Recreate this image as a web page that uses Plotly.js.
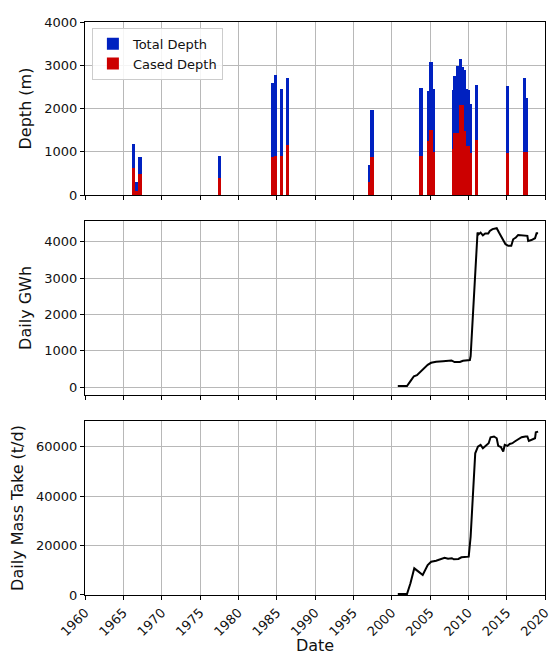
<!DOCTYPE html>
<html>
<head>
<meta charset="utf-8">
<script src="https://cdn.plot.ly/plotly-3.0.1.min.js"></script>
<style>html,body{margin:0;padding:0;background:#fff;}#chart{width:555px;height:655px;}</style>
</head>
<body>
<div id="chart"></div>
<script>
// ---- Well depth data (decimal year, total depth m, cased depth m) ----
const wellYears = [1966.3, 1966.75, 1967.2, 1977.54, 1984.51, 1984.85, 1985.6, 1986.4,
  1997.15, 1997.45, 2003.83, 2004.85, 2005.4, 2005.15,
  2008.055, 2008.265, 2008.575, 2008.825, 2009.005, 2009.185, 2009.445, 2009.705, 2009.965, 2010.225,
  2011.1, 2015.09, 2017.53, 2017.33];
const totalDepth = [1190, 310, 890, 905, 2590, 2785, 2454, 2715,
  705, 1970, 2477, 2400, 2450, 3070,
  2430, 2760, 2990, 2990, 3150, 2950, 2900, 2450, 2420, 2100,
  2540, 2510, 2235, 2715];
const casedDepth = [630, 105, 488, 400, 885, 895, 910, 1148,
  295, 885, 905, 1250, 1000, 1505,
  1070, 1440, 1440, 1420, 2090, 2090, 1470, 1050, 1140, 980,
  1277, 975, 995, 995];

// ---- Daily GWh series ----
const gwhYears = [2000.8, 2002.0, 2002.45, 2002.9, 2003.3, 2003.75, 2004.2, 2004.7, 2005.15, 2005.8,
  2006.7, 2007.8, 2008.2, 2008.9, 2009.3, 2010.2, 2010.3, 2010.6, 2010.9, 2011.2,
  2011.35, 2011.6, 2011.9, 2012.2, 2012.6, 2012.8, 2013.15, 2013.7, 2014.0, 2014.4,
  2014.85, 2015.2, 2015.6, 2015.85, 2016.2, 2016.5, 2016.9, 2017.4, 2017.7, 2017.8,
  2018.25, 2018.7, 2018.9, 2019.1];
const gwhValues = [30, 30, 165, 300, 330, 415, 505, 615, 670, 700,
  715, 735, 690, 690, 725, 745, 855, 1960, 3245, 4255,
  4210, 4255, 4180, 4230, 4230, 4300, 4350, 4375, 4255, 4090,
  3935, 3890, 3890, 4070, 4120, 4190, 4180, 4180, 4165, 4025,
  4050, 4100, 4235, 4235];

// ---- Daily mass take series (t/d) ----
const massYears = [2000.8, 2002.0, 2002.45, 2002.95, 2003.5, 2004.05, 2004.7, 2005.15, 2005.8, 2006.45,
  2006.9, 2007.35, 2007.85, 2008.1, 2008.7, 2009.1, 2009.75, 2010.05, 2010.3, 2010.6,
  2010.9, 2011.25, 2011.6, 2011.9, 2012.3, 2012.65, 2012.9, 2013.35, 2013.7, 2013.9,
  2014.25, 2014.55, 2014.75, 2015.1, 2015.4, 2015.75, 2016.05, 2016.5, 2016.95, 2017.45,
  2017.7, 2017.9, 2018.25, 2018.7, 2018.8, 2019.1];
const massValues = [400, 400, 4730, 10800, 9460, 8100, 12160, 13500, 13900, 14600,
  15100, 14700, 14900, 14460, 14600, 15270, 15540, 15540, 23650, 41200,
  57400, 60100, 60800, 59460, 60400, 61500, 63900, 64200, 63500, 60400,
  59900, 58100, 60800, 60400, 61200, 61500, 62200, 63100, 63900, 64200,
  64200, 62400, 62800, 63500, 65900, 66200];

const xTickVals = [1960, 1965, 1970, 1975, 1980, 1985, 1990, 1995, 2000, 2005, 2010, 2015, 2020];
const xTickText = xTickVals.map(String);

const FONT = 'DejaVu Sans, Arial, sans-serif';
const BLUE = '#0021c0';
const RED = '#cc0000';

const traces = [
  {type: 'bar', name: 'Total Depth', x: wellYears, y: totalDepth, width: 0.45,
   marker: {color: BLUE, line: {width: 0}}, xaxis: 'x', yaxis: 'y'},
  {type: 'bar', name: 'Cased Depth', x: wellYears, y: casedDepth, width: 0.45,
   marker: {color: RED, line: {width: 0}}, xaxis: 'x', yaxis: 'y'},
  {type: 'scatter', mode: 'lines', x: gwhYears, y: gwhValues, showlegend: false,
   line: {color: '#000', width: 2}, xaxis: 'x2', yaxis: 'y2'},
  {type: 'scatter', mode: 'lines', x: massYears, y: massValues, showlegend: false,
   line: {color: '#000', width: 2}, xaxis: 'x3', yaxis: 'y3'}
];

function xax(showLabels, anchor) {
  return {
    range: [1960, 2020], tickvals: xTickVals, ticktext: xTickText,
    showticklabels: showLabels, tickangle: -45,
    ticks: 'outside', ticklen: 4, tickwidth: 1, tickcolor: '#000',
    showline: true, linecolor: '#000', linewidth: 1, mirror: true,
    showgrid: true, gridcolor: '#b8b8b8', gridwidth: 1, zeroline: false,
    tickfont: {family: FONT, size: 13, color: '#111'}, anchor: anchor
  };
}
function yax(domain, range, dtick, title, anchor) {
  return {
    domain: domain, range: range, dtick: dtick, tick0: 0, anchor: anchor,
    tickformat: 'd',
    ticks: 'outside', ticklen: 4, tickwidth: 1, tickcolor: '#000',
    showline: true, linecolor: '#000', linewidth: 1, mirror: true,
    showgrid: true, gridcolor: '#b8b8b8', gridwidth: 1, zeroline: false,
    tickfont: {family: FONT, size: 13, color: '#111'},
    title: {text: title, font: {family: FONT, size: 16, color: '#111'}, standoff: 8}
  };
}

const layout = {
  width: 555, height: 655,
  margin: {l: 85, r: 10, t: 22, b: 60},
  paper_bgcolor: '#fff', plot_bgcolor: '#fff',
  barmode: 'overlay', bargap: 0,
  font: {family: FONT, size: 13, color: '#111'},
  showlegend: true,
  legend: {x: 0.015, y: 0.99, xanchor: 'left', yanchor: 'top',
    bgcolor: 'rgba(255,255,255,0.85)', bordercolor: '#cccccc', borderwidth: 1,
    font: {family: FONT, size: 13, color: '#111'}},
  xaxis: xax(false, 'y'),
  xaxis2: xax(false, 'y2'),
  xaxis3: Object.assign(xax(true, 'y3'), {title: {text: 'Date', font: {family: FONT, size: 16, color: '#111'}, standoff: 2}}),
  yaxis: yax([0.698, 1], [0, 4000], 1000, 'Depth (m)', 'x'),
  yaxis2: yax([0.349, 0.653], [-218, 4578], 1000, 'Daily GWh', 'x2'),
  yaxis3: yax([0, 0.3037], [0, 70500], 20000, 'Daily Mass Take (t/d)', 'x3')
};

Plotly.newPlot('chart', traces, layout, {displayModeBar: false, staticPlot: true});
</script>
</body>
</html>
